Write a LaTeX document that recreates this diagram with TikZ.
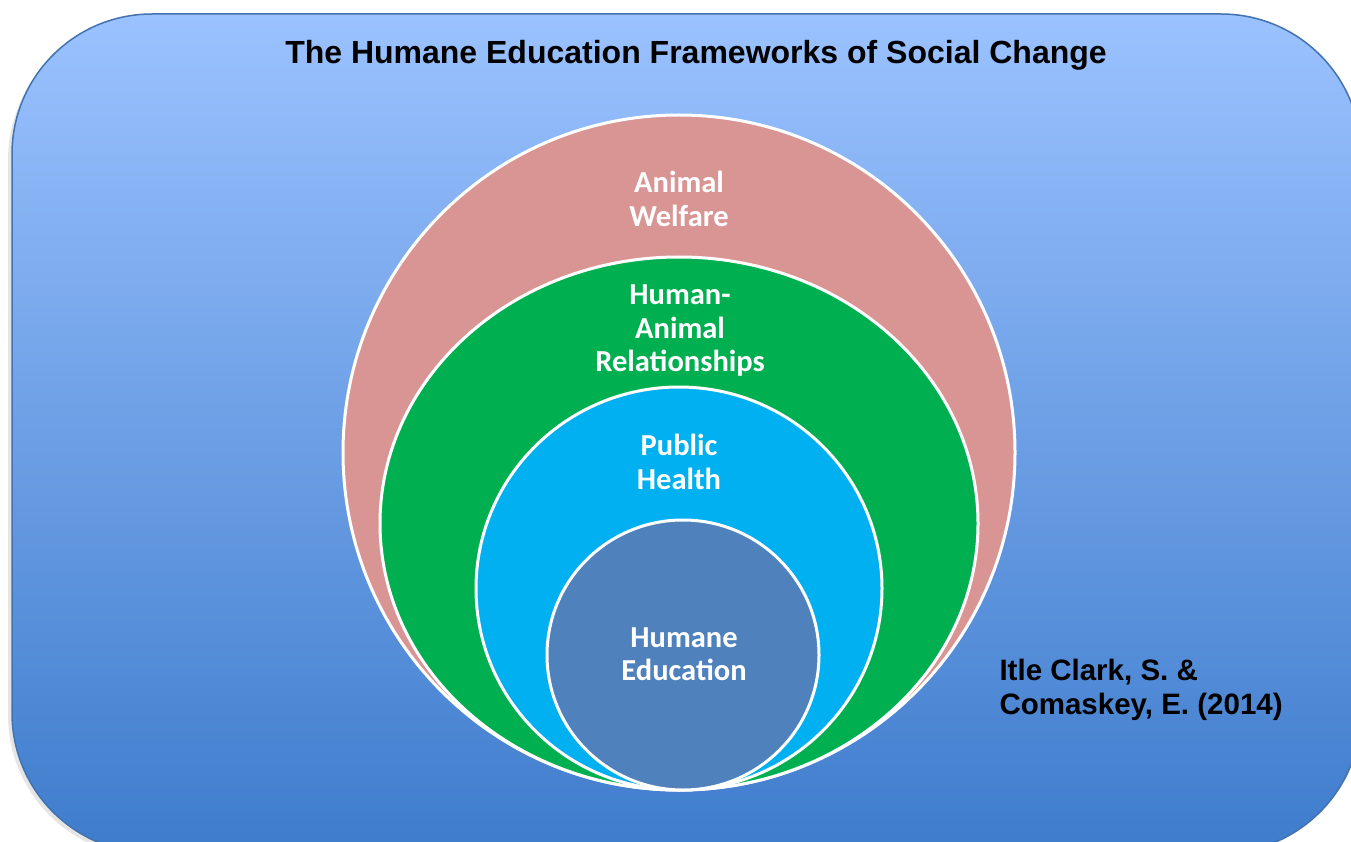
\documentclass[tikz,border=0pt]{standalone}
\usepackage{fontspec}
\setmainfont{Liberation Sans}
\newfontfamily\calib{Carlito}
\usetikzlibrary{shapes.geometric,shadows}
\definecolor{bgtop}{RGB}{155,194,255}
\definecolor{bgbot}{RGB}{62,124,204}
\definecolor{bgline}{RGB}{66,114,176}
\definecolor{pinkc}{RGB}{217,149,148}
\definecolor{greenc}{RGB}{0,176,80}
\definecolor{cyanc}{RGB}{0,176,240}
\definecolor{steelc}{RGB}{79,129,189}
\tikzset{
  ring/.style={ellipse, draw=white, line width=3pt, inner sep=0pt},
  lab/.style={text=white, align=center, font=\calib\bfseries\fontsize{30.5}{33.5}\selectfont},
  cite/.style={align=left, anchor=west, font=\bfseries\fontsize{29.5}{34}\selectfont},
}
\begin{document}
\begin{tikzpicture}[x=1pt,y=-1pt]
\useasboundingbox (0,0) rectangle (1351,842);
\begin{scope}
\clip (0,0) rectangle (1351,842);
\fill[black,opacity=0.10,rounded corners=142pt] (8,18) rectangle (1357,857);
\path[rounded corners=140pt, top color=bgtop, bottom color=bgbot, draw=bgline, line width=1.5pt]
  (12,14) rectangle (1361,853);
\end{scope}
\node[font=\bfseries\fontsize{32}{38}\selectfont] (title) at (696,55) {The Humane Education Frameworks of Social Change};
\node[ring, fill=pinkc, minimum width=672pt, minimum height=675pt] (aw) at (679,452.5) {};
\node[ring, fill=greenc, minimum width=598pt, minimum height=533pt] (har) at (679,523.5) {};
\node[ring, fill=cyanc, minimum width=406pt, minimum height=403pt] (ph) at (679,588.5) {};
\node[ring, fill=steelc, minimum width=272pt, minimum height=270pt] (he) at (683,655) {};
\node[lab] (awl) at (679,199) {Animal\\Welfare};
\node[lab] (harl) at (680,331) {Human-\\Animal\\Relationships};
\node[lab] (phl) at (679,462) {Public\\Health};
\node[lab] (hel) at (684,654) {Humane\\Education};
\node[cite] (ct) at (996,690) {Itle Clark, S. \&\\Comaskey, E. (2014)};
\end{tikzpicture}
\end{document}
